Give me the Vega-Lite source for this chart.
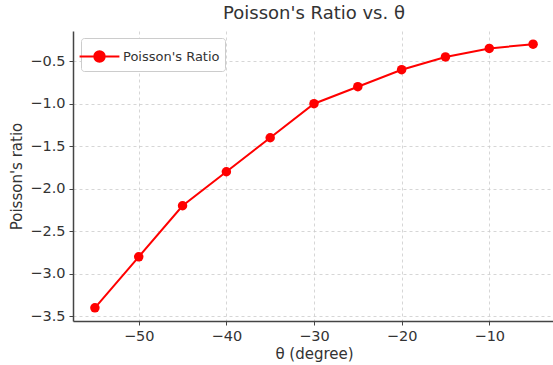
{
  "$schema": "https://vega.github.io/schema/vega-lite/v6.json",
  "autosize": "none",
  "width": 482,
  "height": 290,
  "padding": {"left": 73, "top": 31, "right": 0, "bottom": 44},
  "background": "white",
  "title": {"text": "Poisson's Ratio vs. θ", "font": "DejaVu Sans", "fontSize": 18, "fontWeight": "normal", "color": "#333333", "offset": 8},
  "data": {"values": [
    {"theta": -55, "ratio": -3.4, "series": "Poisson's Ratio"},
    {"theta": -50, "ratio": -2.8, "series": "Poisson's Ratio"},
    {"theta": -45, "ratio": -2.2, "series": "Poisson's Ratio"},
    {"theta": -40, "ratio": -1.8, "series": "Poisson's Ratio"},
    {"theta": -35, "ratio": -1.4, "series": "Poisson's Ratio"},
    {"theta": -30, "ratio": -1.0, "series": "Poisson's Ratio"},
    {"theta": -25, "ratio": -0.8, "series": "Poisson's Ratio"},
    {"theta": -20, "ratio": -0.6, "series": "Poisson's Ratio"},
    {"theta": -15, "ratio": -0.45, "series": "Poisson's Ratio"},
    {"theta": -10, "ratio": -0.35, "series": "Poisson's Ratio"},
    {"theta": -5, "ratio": -0.3, "series": "Poisson's Ratio"}
  ]},
  "config": {
    "view": {"stroke": null},
    "font": "DejaVu Sans",
    "axis": {
      "labelFont": "DejaVu Sans", "labelFontSize": 14.5, "labelColor": "#333333",
      "titleFont": "DejaVu Sans", "titleFontSize": 15, "titleFontWeight": "normal", "titleColor": "#333333",
      "domainColor": "#444444", "domainWidth": 1.5,
      "tickColor": "#444444", "tickSize": 4, "tickWidth": 1,
      "gridColor": "#cccccc", "gridDash": [3, 3], "gridWidth": 0.8
    }
  },
  "mark": {"type": "line", "strokeWidth": 2, "point": {"filled": true, "size": 90, "opacity": 1}},
  "encoding": {
    "x": {"field": "theta", "type": "quantitative",
      "scale": {"domain": [-57.5, -2.5], "nice": false, "zero": false},
      "axis": {"values": [-50, -40, -30, -20, -10], "title": "θ (degree)", "titlePadding": 4, "labelPadding": 4}},
    "y": {"field": "ratio", "type": "quantitative",
      "scale": {"domain": [-3.555, -0.145], "nice": false, "zero": false},
      "axis": {"values": [-3.5, -3.0, -2.5, -2.0, -1.5, -1.0, -0.5], "format": ".1f", "title": "Poisson's ratio", "titlePadding": 5, "labelPadding": 4}},
    "color": {"field": "series", "type": "nominal",
      "scale": {"domain": ["Poisson's Ratio"], "range": ["#ff0000"]},
      "legend": {"title": null, "orient": "none", "legendX": 8, "legendY": 7,
        "fillColor": "white", "strokeColor": "#cccccc", "cornerRadius": 3, "padding": 5,
        "labelFont": "DejaVu Sans", "labelFontSize": 13, "labelColor": "#333333", "labelOffset": 10,
        "symbolType": "M-1.6,0L1.6,0M-0.42,0A0.42,0.42 0 1,1 0.42,0A0.42,0.42 0 1,1 -0.42,0Z",
        "symbolSize": 620, "symbolStrokeWidth": 2, "symbolFillColor": "#ff0000", "symbolStrokeColor": "#ff0000", "symbolOpacity": 1}}
  }
}
